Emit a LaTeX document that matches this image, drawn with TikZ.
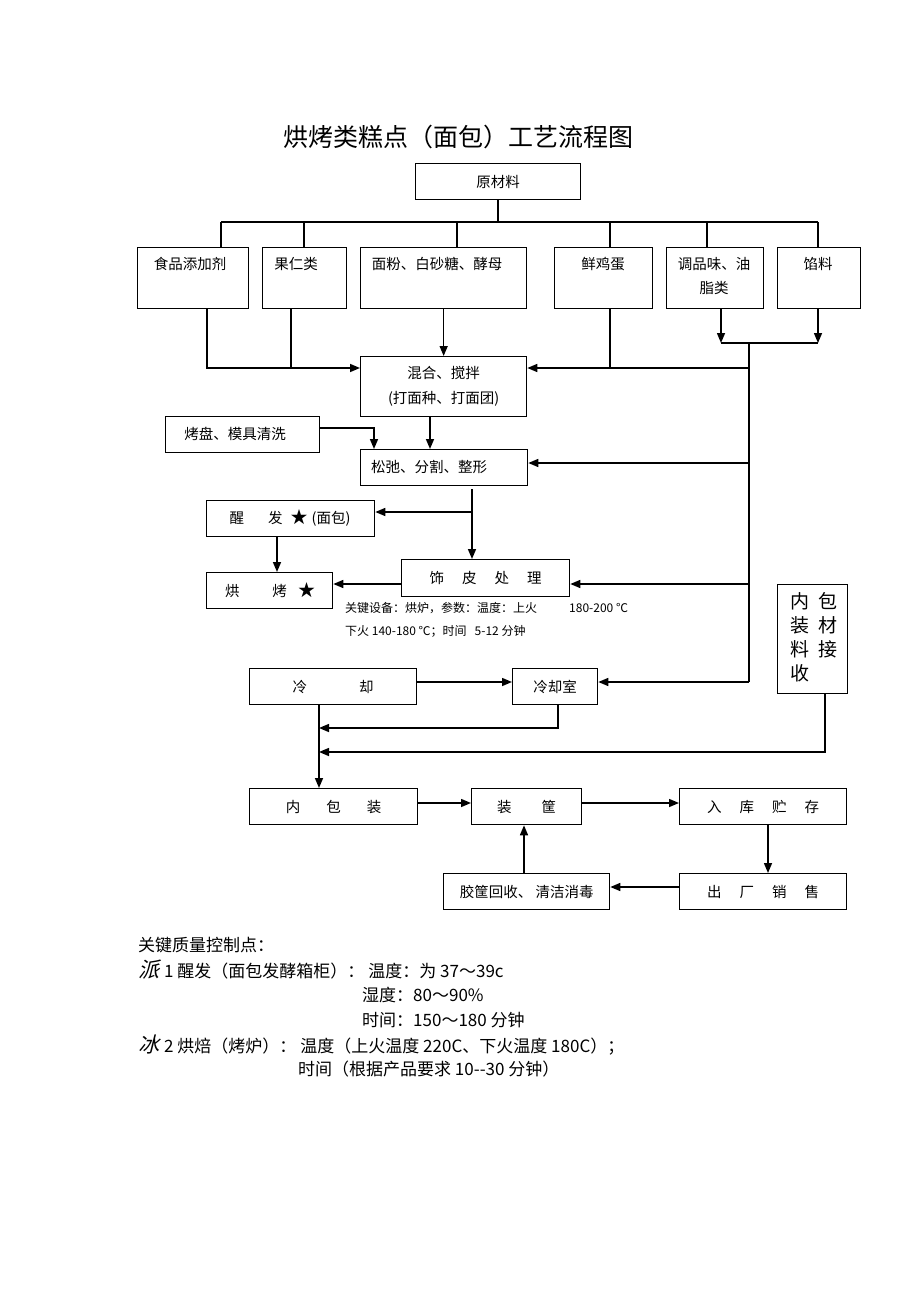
\documentclass[tikz,border=0pt]{standalone}
\usepackage{fontspec}
\setmainfont{Noto Sans CJK SC}
\newfontfamily\cjkit[FakeSlant=0.25]{Noto Sans CJK SC}
\usetikzlibrary{arrows.meta}
\tikzset{
 box/.style={draw, line width=1.3pt, inner sep=0pt, anchor=north west, font=\fontsize{14.5}{17}\selectfont},
 txt/.style={inner sep=0pt, font=\fontsize{14.5}{17}\selectfont},
 ln/.style={line width=1.5pt},
 arr/.style={line width=1.5pt, -{Triangle[length=10pt,width=8pt]}},
 note/.style={inner sep=0pt, anchor=west, font=\fontsize{12}{14}\selectfont},
 qc/.style={inner sep=0pt, anchor=west, font=\fontsize{17}{20}\selectfont},
}
\begin{document}
\begin{tikzpicture}[x=1pt,y=-1pt]
\useasboundingbox (0,0) rectangle (920,1303);
\fill[white] (0,0) rectangle (920,1303);
% title
\node[inner sep=0pt, font=\fontsize{25}{28}\selectfont] (title) at (458,137) {烘烤类糕点（面包）工艺流程图};
% boxes
\node[box, minimum width=165, minimum height=36] (raw) at (415,163) {原材料};
\node[box, minimum width=111, minimum height=61] (add) at (137,247) {};
\node[box, minimum width=84, minimum height=61] (nut) at (262,247) {};
\node[box, minimum width=166, minimum height=61] (flour) at (360,247) {};
\node[box, minimum width=98, minimum height=61] (egg) at (554,247) {};
\node[box, minimum width=97, minimum height=61] (oil) at (666,247) {};
\node[box, minimum width=83, minimum height=61] (fill) at (777,247) {};
\node[txt] (addt) at (190,264) {食品添加剂};
\node[txt] (nutt) at (296,264) {果仁类};
\node[txt] (flourt) at (437,264) {面粉、白砂糖、酵母};
\node[txt] (eggt) at (603,264) {鲜鸡蛋};
\node[txt, align=center, font=\fontsize{14.5}{24}\selectfont] (oilt) at (714,276) {调品味、油\\脂类};
\node[txt] (fillt) at (818,264) {馅料};
\node[box, minimum width=166, minimum height=60, align=center, font=\fontsize{14.5}{25}\selectfont] (mix) at (360,356) {混合、搅拌\\(打面种、打面团)};
\node[box, minimum width=154, minimum height=36] (tray) at (165,416) {};
\node[txt] (trayt) at (235,434) {烤盘、模具清洗};
\node[box, minimum width=167, minimum height=36] (relax) at (360,449) {};
\node[txt] (relaxt) at (429,467) {松弛、分割、整形};
\node[box, minimum width=168, minimum height=36] (proof) at (206,500) {};
\node[txt] (prooft) at (290,518) {醒\hspace{24pt}发\hspace{8pt}{\fontsize{17}{17}\selectfont ★}\hspace{4pt}(面包)};
\node[box, minimum width=126, minimum height=36] (bake) at (206,572) {};
\node[txt] (baket) at (270,590) {烘\hspace{33pt}烤\hspace{11pt}{\fontsize{17}{17}\selectfont ★}};
\node[box, minimum width=168, minimum height=37] (skin) at (401,559) {饰\hspace{18pt}皮\hspace{18pt}处\hspace{18pt}理};
\node[note] (n1) at (345,608) {关键设备：烘炉，参数：温度：上火\hspace{32pt}180-200 ℃};
\node[note] (n2) at (345,631) {下火 140-180 ℃；时间\hspace{8pt}5-12 分钟};
\node[box, minimum width=70, minimum height=109] (pack) at (777,584) {};
\node[inner sep=0pt, anchor=north west, align=left, font=\fontsize{19}{24}\selectfont] (packt) at (790,592) {内\hspace{9pt}包\\装\hspace{9pt}材\\料\hspace{9pt}接\\收};
\node[box, minimum width=167, minimum height=36] (cool) at (249,668) {冷\hspace{52pt}却};
\node[box, minimum width=85, minimum height=36] (coolroom) at (512,668) {冷却室};
\node[box, minimum width=168, minimum height=36] (inner) at (249,788) {内\hspace{26pt}包\hspace{26pt}装};
\node[box, minimum width=110, minimum height=36] (basket) at (471,788) {装\hspace{30pt}筐};
\node[box, minimum width=167, minimum height=36] (store) at (679,788) {入\hspace{18pt}库\hspace{18pt}贮\hspace{18pt}存};
\node[box, minimum width=167, minimum height=36] (sale) at (679,873) {出\hspace{18pt}厂\hspace{18pt}销\hspace{18pt}售};
\node[box, minimum width=166, minimum height=36] (recycle) at (443,873) {胶筐回收、 清洁消毒};
% junction coordinates
\coordinate (busL) at (221,222);
\coordinate (busR) at (818,222);
\coordinate (t2) at (304,222);
\coordinate (t3) at (457,222);
\coordinate (t4) at (610,222);
\coordinate (t5) at (707,222);
\coordinate (j1) at (207,368);
\coordinate (j2) at (291,368);
\coordinate (j3) at (610,368);
\coordinate (k1) at (721,343);
\coordinate (k2) at (818,343);
\coordinate (tr0) at (749,343);
\coordinate (b1) at (749,368);
\coordinate (b2) at (749,463);
\coordinate (b3) at (749,584);
\coordinate (b4) at (749,682);
\coordinate (c1) at (374,428);
\coordinate (c2) at (430,430);
\coordinate (d1) at (472,512);
\coordinate (e1) at (277,540);
\coordinate (f1) at (400,584);
\coordinate (g1) at (319,740);
\coordinate (h1) at (558,728);
\coordinate (h2) at (825,752);
\coordinate (m1) at (600,803);
\coordinate (s1) at (768,850);
\coordinate (r1) at (620,887);
\coordinate (u1) at (524,850);
% connectors
\draw[ln] (raw.south) -- (raw.south |- busL);
\draw[ln] (busL) -- (busR);
\draw[ln] (busL) -- (busL |- add.north);
\draw[ln] (t2) -- (t2 |- nut.north);
\draw[ln] (t3) -- (t3 |- flour.north);
\draw[ln] (t4) -- (t4 |- egg.north);
\draw[ln] (t5) -- (t5 |- oil.north);
\draw[ln] (busR) -- (busR |- fill.north);
\draw[arr] (add.south -| j1) -- (j1) -- (j1 -| mix.west);
\draw[ln] (nut.south -| j2) -- (j2);
\draw[arr] (flour.south) -- (mix.north);
\draw[ln] (egg.south -| j3) -- (j3);
\draw[arr] (oil.south -| k1) -- (k1);
\draw[arr] (fill.south -| k2) -- (k2);
\draw[ln] (k1) -- (k2);
\draw[ln] (tr0) -- (b4);
\draw[arr] (b1) -- (b1 -| mix.east);
\draw[arr] (b2) -- (b2 -| relax.east);
\draw[arr] (b3) -- (b3 -| skin.east);
\draw[arr] (b4) -- (b4 -| coolroom.east);
\draw[arr] (c1 -| tray.east) -- (c1) -- (c1 |- relax.north);
\draw[arr] (mix.south -| c2) -- (relax.north -| c2);
\draw[arr] ([yshift=-3pt]relax.south -| d1) -- (skin.north -| d1);
\draw[arr] (d1) -- (d1 -| proof.east);
\draw[arr] (proof.south -| e1) -- (bake.north -| e1);
\draw[arr] (f1 -| skin.west) -- (f1 -| bake.east);
\draw[arr] (cool.east |- b4) -- (coolroom.west |- b4);
\draw[arr] (cool.south -| g1) -- (inner.north -| g1);
\draw[arr] (coolroom.south -| h1) -- (h1) -- (h1 -| g1);
\draw[arr] (pack.south -| h2) -- (h2) -- (h2 -| g1);
\draw[arr] (inner.east |- m1) -- (basket.west |- m1);
\draw[arr] (basket.east |- m1) -- (store.west |- m1);
\draw[arr] (store.south -| s1) -- (sale.north -| s1);
\draw[arr] (sale.west |- r1) -- (recycle.east |- r1);
\draw[arr] (recycle.north -| u1) -- (basket.south -| u1);
% quality control notes
\node[qc] (q0) at (138,945) {关键质量控制点：};
\node[qc] (q1) at (138,970) {{\cjkit\fontsize{21}{20}\selectfont 派}\hspace{5pt}1 醒发（面包发酵箱柜）：\hspace{4pt}温度：为 37〜39c};
\node[qc] (q2) at (362,995) {湿度：80〜90\%};
\node[qc] (q3) at (362,1020) {时间：150〜180 分钟};
\node[qc] (q4) at (138,1045) {{\cjkit\fontsize{21}{20}\selectfont 冰}\hspace{5pt}2 烘焙（烤炉）：\hspace{4pt}温度（上火温度 220C、下火温度 180C）；};
\node[qc] (q5) at (298,1069) {时间（根据产品要求 10-{}-30 分钟）};
\end{tikzpicture}
\end{document}
